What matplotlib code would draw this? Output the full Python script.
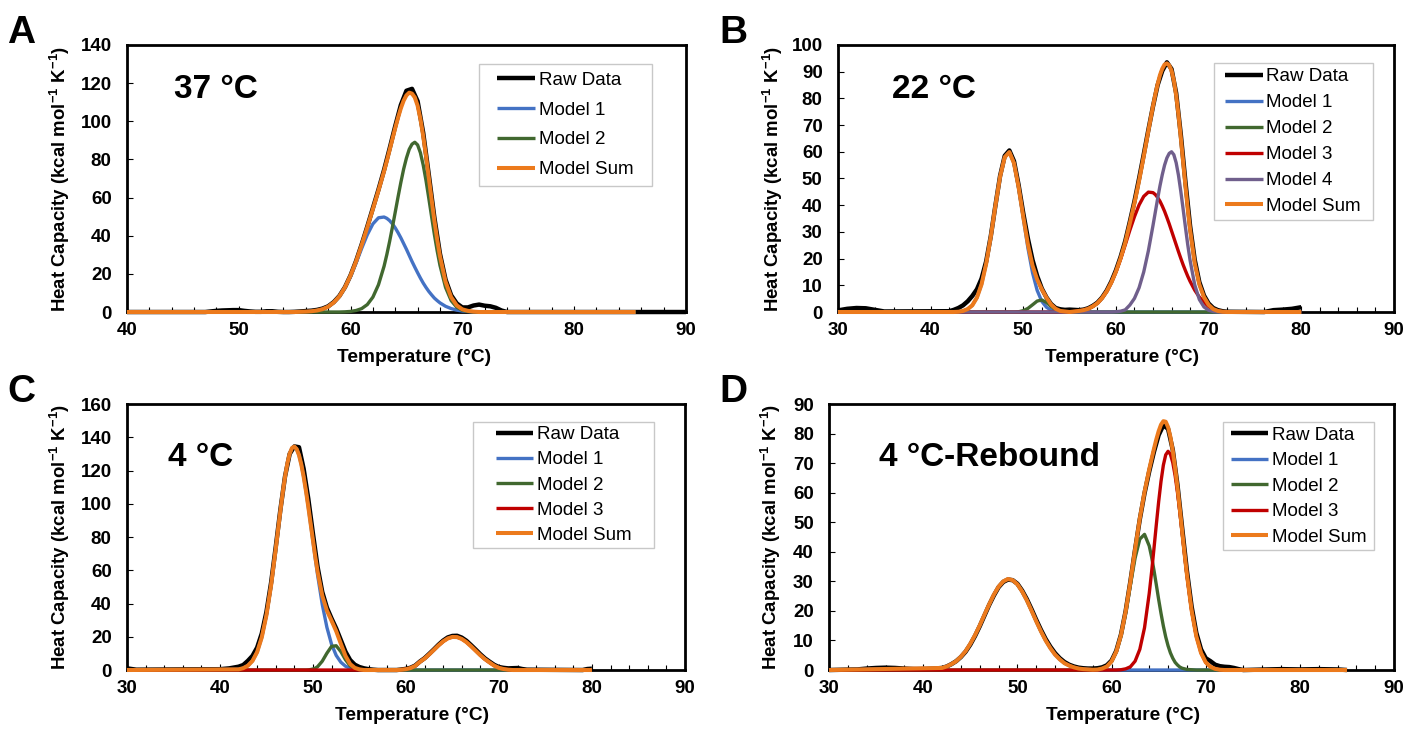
"""DSC deconvolution panels A-D: raw heat capacity, fitted models and their sum."""

import matplotlib

matplotlib.use("Agg")

import matplotlib.pyplot as plt
import numpy as np
from matplotlib.patches import Rectangle

plt.rcParams["font.family"] = ["Liberation Sans", "DejaVu Sans"]
plt.rcParams["mathtext.fontset"] = "custom"
plt.rcParams["mathtext.rm"] = "Liberation Sans:bold"
plt.rcParams["mathtext.bf"] = "Liberation Sans:bold"
plt.rcParams["mathtext.default"] = "bf"

RAW_COLOR = "#000000"
MODEL_COLORS = ["#4472C4", "#41682F", "#C00000", "#705F8C"]
SUM_COLOR = "#EC7A1C"

# ---------------- panel A : 37 C ----------------
temp_a = np.r_[40, np.arange(55, 63, 0.5), np.arange(63, 68, 0.25),
               np.arange(68, 73.5, 0.5), 85.5]
a_model1 = [0] + [
    0, 0.1, 0.2, 0.4, 0.8, 1.5, 2.8, 5.0, 8.2, 12.8, 18.8, 25.8, 33.4, 40.5, 46.2, 49.4,
    49.8, 49.1, 47.9, 46.2, 44.1, 41.6, 38.9, 35.9, 32.9, 29.7,
    26.5, 23.5, 20.6, 17.8, 15.2, 12.9, 10.8, 9.0, 7.3, 6.0,
    4.8, 3.0, 1.8, 1.0, 0.5, 0.3, 0.1, 0, 0, 0, 0] + [0]
a_model2 = [0] + [
    0, 0, 0, 0, 0, 0, 0, 0, 0, 0.1, 0.3, 0.8, 1.8, 3.9, 7.8, 14.3,
    24.0, 30.2, 37.1, 44.6, 52.4, 60.3, 67.9, 74.9, 80.7, 85.3,
    88.0, 89.0, 87.6, 83.5, 77.1, 69.0, 59.7, 50.1, 40.7, 32.1,
    24.5, 12.9, 6.0, 2.5, 0.9, 0.3, 0.1, 0, 0, 0, 0] + [0]
a_sum = [0] + [
    0, 0.1, 0.2, 0.4, 0.8, 1.5, 2.8, 5.0, 8.2, 12.9, 19.1, 26.6, 35.2, 44.4, 54.0, 63.7,
    73.8, 79.3, 85.0, 90.8, 96.5, 101.9, 106.8, 110.8, 113.6, 115.0,
    114.5, 112.5, 108.2, 101.3, 92.3, 81.9, 70.5, 59.1, 48.0, 38.1,
    29.3, 15.9, 7.8, 3.5, 1.4, 0.6, 0.2, 0, 0, 0, 0] + [0]
raw_a_t = np.r_[40, np.arange(47, 74.5, 0.5), 90]
raw_a = [0] + [
    0, 0.3, 0.6, 0.8, 0.9, 1.0, 1.0, 0.6, 0.3, 0.1,
    0.1, 0.4, 0.4, 0.1, 0, 0, 0.1, 0.3, 0.5, 0.7,
    1.1, 1.8, 3.0, 5.2, 8.4, 13.0, 19.2, 26.8, 35.5, 44.8,
    54.5, 64.2, 74.5, 85.8, 97.5, 108.5, 116.0, 117.0, 110.5, 94.0,
    72.0, 49.5, 30.5, 17.0, 8.8, 4.5, 2.4, 2.4, 3.4, 3.9,
    3.3, 3.0, 2.2, 0.8, 0] + [0]

# ---------------- panel B : 22 C ----------------
temp_b = np.r_[30, np.arange(42, 64, 0.5), np.arange(64, 68, 0.25),
               np.arange(68, 72.5, 0.5), 80]
b_model1 = [0] + [
    0, 0, 0.1, 0.4, 1.1, 2.5, 5.4, 10.4, 18.1, 28.3,
    39.9, 50.7, 58.0, 59.9, 55.7, 46.6, 35.2, 24.0, 14.7, 8.1,
    4.0, 1.8, 0.7, 0.3, 0.1] + [0] * 19 + [0] * 16 + [0] * 9 + [0]
b_model2 = [0] + [0] * 14 + [
    0, 0.1, 0.5, 1.35, 2.7, 4.1, 4.5, 3.6, 2.1, 0.9, 0.3, 0.1] + [0] * 18 + [0] * 25 + [0]
b_model3 = [0] + [0] * 27 + [
    0.2, 0.4, 0.7, 1.2, 2.1, 3.3, 5.2, 7.7, 11.0, 15.0,
    19.8, 25.1, 30.6, 35.7, 40.1, 43.3, 44.9] + [
    44.7, 44.0, 42.9, 41.5, 39.7, 37.7, 35.4, 33.0,
    30.4, 27.8, 25.2, 22.6, 20.1, 17.7, 15.5, 13.4] + [
    11.5, 8.2, 5.6, 3.7, 2.0, 0.9, 0.4, 0.1, 0] + [0]
b_model4 = [0] + [0] * 36 + [
    0.1, 0.3, 0.8, 2.6, 5.1, 9.1, 15.0, 22.9] + [
    32.4, 37.4, 42.4, 47.2, 51.4, 55.0, 57.7, 59.4,
    60.0, 58.9, 55.9, 51.2, 45.2, 38.6, 31.8, 25.2] + [
    19.4, 10.2, 4.7, 1.9, 0.65, 0.2, 0, 0, 0] + [0]
b_sum = [0] + [
    0, 0, 0.1, 0.4, 1.1, 2.5, 5.4, 10.4, 18.1, 28.3,
    39.9, 50.7, 58.0, 59.9, 55.7, 46.7, 35.7, 25.4, 17.4, 12.2,
    8.5, 5.4, 2.8, 1.2, 0.4, 0.2, 0, 0.2, 0.4, 0.7,
    1.2, 2.1, 3.3, 5.2, 7.7, 11.0, 15.1, 20.1, 25.9, 33.2,
    40.8, 49.2, 58.3, 67.8] + [
    77.1, 81.4, 85.3, 88.7, 91.1, 92.7, 93.1, 92.4,
    90.4, 86.7, 81.1, 73.8, 65.3, 56.3, 47.3, 38.6] + [
    30.9, 18.4, 10.3, 5.6, 2.7, 1.1, 0.4, 0.1, 0] + [0]
raw_b_t = np.r_[30, 31, 32, 33, 34, 35, np.arange(42, 72.5, 0.5), 76, 77, 78, 79, 80]
raw_b = [0.6, 1.2, 1.5, 1.4, 0.8, 0.2] + [
    0.3, 0.8, 1.5, 2.5, 4.0, 6.0, 8.5, 12.5, 19.0, 28.5,
    40.0, 51.0, 58.5, 60.5, 56.5, 47.5, 37.0, 27.5, 19.5, 13.5,
    8.8, 5.5, 3.0, 1.5, 1.0, 0.8, 0.9, 0.8, 0.7, 0.9,
    1.4, 2.3, 3.5, 5.4, 8.0, 11.4, 15.6, 20.6, 26.5, 33.8,
    41.5, 50.0, 59.0, 68.2, 77.0, 85.0, 90.3, 93.5, 91.0, 82.0,
    66.5, 48.8, 32.3, 19.6, 11.2, 6.2, 3.2, 1.5, 0.7, 0.3,
    0.1] + [0, 0.7, 0.9, 1.2, 1.8]

# ---------------- panel C : 4 C ----------------
temp_c = np.r_[30, np.arange(42, 46, 0.5), np.arange(46, 50.5, 0.25),
               np.arange(50.5, 72.5, 0.5), 80]
c_model1 = [0] + [
    0.4, 1.1, 2.6, 5.5, 10.8, 19.7, 33.0, 51.0] + [
    72.8, 84.4, 95.8, 106.6, 116.2, 124.3, 130.2, 133.6, 134.4,
    132.9, 129.3, 123.6, 116.3, 107.7, 98.1, 87.8, 77.5, 67.1] + [
    57.2, 39.5, 25.7, 15.5, 8.8, 4.7, 2.3, 1.1, 0.5, 0.2] + [0] * 34 + [0]
c_model2 = [0] + [0] * 8 + [0] * 13 + [0, 0.1, 0.3, 0.6, 1.1] + [
    2.0, 5.3, 10.1, 14.2, 14.6, 11.1, 6.2, 2.5, 0.8, 0.2] + [0] * 34 + [0]
c_model3 = [0] + [0] * 8 + [0] * 18 + [0] * 18 + [
    0.2, 0.5, 1.2, 2.5, 4.9, 6.9, 9.4, 12.1, 14.8, 17.2,
    19.0, 19.9, 19.8, 18.7, 16.8, 14.3, 11.6, 8.9, 6.5, 4.5,
    2.6, 1.3, 0.6, 0.2] + [0] * 2 + [0]
c_sum = [0] + [
    0.4, 1.1, 2.6, 5.5, 10.8, 19.7, 33.0, 51.0] + [
    72.8, 84.4, 95.8, 106.6, 116.2, 124.3, 130.2, 133.6, 134.4,
    132.9, 129.3, 123.6, 116.3, 107.7, 98.2, 88.1, 78.1, 68.2] + [
    59.2, 44.8, 35.8, 29.7, 23.4, 15.8, 8.5, 3.6, 1.3, 0.4,
    0, 0, 0, 0, 0, 0, 0, 0, 0.2, 0.5, 1.2, 2.5, 4.9,
    6.9, 9.4, 12.1, 14.8, 17.2, 19.0, 19.9, 19.8, 18.7, 16.8,
    14.3, 11.6, 8.9, 6.5, 4.5, 2.6, 1.3, 0.6, 0.2, 0,
    0] + [0]
raw_c_t = np.r_[30, 31, 40, 41, np.arange(42, 73.5, 0.5), 79, 79.5, 80]
raw_c = [1.0, 0.2, 0.5, 1.0] + [
    2.0, 3.0, 5.5, 8.5, 13.5, 22.0, 35.0, 52.5, 74.0, 96.5,
    116.5, 130.0, 134.5, 134.0, 121.0, 103.0, 82.0, 62.0, 47.0, 37.5,
    31.0, 25.0, 18.0, 11.0, 6.0, 3.2, 1.8, 1.0, 0.5, 0.2,
    0, 0, 0, 0, 0, 0.3, 0.7, 1.4, 2.7, 5.1,
    7.1, 9.7, 12.4, 15.2, 17.7, 19.6, 20.5, 20.6, 19.5, 17.6,
    15.0, 12.3, 9.5, 7.0, 5.0, 3.1, 1.8, 1.3, 1.0, 1.1,
    1.2, 0.6, 0.2] + [0, 0.6, 0.8]

# ---------------- panel D : 4 C rebound ----------------
temp_d = np.r_[30, np.arange(42, 64, 0.5), np.arange(64, 68, 0.25),
               np.arange(68, 72.5, 0.5), 85]
d_model1 = [0] + [
    0.7, 1.2, 2.0, 3.0, 4.5, 6.4, 8.9, 11.8, 15.1, 18.7,
    22.2, 25.5, 28.2, 30.0, 30.8, 30.4, 29.0, 26.6, 23.6, 20.1,
    16.5, 13.1, 10.0, 7.4, 5.2, 3.6, 2.3, 1.5, 0.9, 0.5,
    0.3, 0.2, 0.1] + [0] * 11 + [0] * 16 + [0] * 9 + [0]
d_model2 = [0] + [0] * 33 + [
    0.15, 0.5, 1.2, 2.9, 6.2, 11.7, 19.5, 28.8, 37.9, 44.3, 45.9] + [
    42.0, 38.3, 33.8, 28.9, 23.9, 19.2, 14.9, 11.2,
    8.2, 5.8, 4.0, 2.6, 1.7, 1.0, 0.6, 0.4] + [
    0.2, 0.1, 0, 0, 0, 0, 0, 0, 0] + [0]
d_model3 = [0] + [0] * 38 + [
    0.1, 0.4, 1.1, 3.0, 7.0, 14.3] + [
    25.9, 33.1, 41.0, 49.1, 56.9, 63.8, 69.3, 72.8,
    74.0, 73.0, 70.2, 65.8, 60.1, 53.5, 46.3, 39.1] + [
    32.2, 20.1, 11.4, 5.8, 2.6, 1.1, 0.4, 0.1, 0] + [0]
d_sum = [0] + [
    0.7, 1.2, 2.0, 3.0, 4.5, 6.4, 8.9, 11.8, 15.1, 18.7,
    22.2, 25.5, 28.2, 30.0, 30.8, 30.4, 29.0, 26.6, 23.6, 20.1,
    16.5, 13.1, 10.0, 7.4, 5.2, 3.6, 2.3, 1.5, 0.9, 0.5,
    0.3, 0.2, 0.1, 0.15, 0.5, 1.2, 2.9, 6.2, 11.8, 19.9,
    29.9, 40.9, 51.3, 60.2] + [
    67.9, 71.4, 74.8, 78.0, 80.8, 83.0, 84.2, 84.0,
    82.2, 78.8, 74.2, 68.4, 61.8, 54.5, 46.9, 39.5] + [
    32.4, 20.2, 11.4, 5.8, 2.6, 1.1, 0.4, 0.1, 0] + [0]
raw_d_t = np.r_[30, 33, 34, 35, 36, 37, 38, 39, 40, np.arange(42, 74.5, 0.5), 78, 80, 82, 84, 85]
raw_d = [0, 0.2, 0.5, 0.7, 0.8, 0.7, 0.5, 0.3, 0.2] + [
    0.7, 1.2, 2.0, 3.0, 4.4, 6.2, 8.6, 11.5, 14.8, 18.4,
    22.0, 25.2, 28.0, 29.8, 30.6, 30.4, 29.2, 26.9, 24.0, 20.6,
    17.0, 13.6, 10.5, 7.9, 5.7, 4.0, 2.7, 1.8, 1.2, 0.8,
    0.6, 0.5, 0.5, 0.6, 0.9, 1.6, 3.2, 6.5, 12.0, 20.0,
    30.0, 40.8, 51.0, 59.8, 67.2, 73.8, 79.5, 82.8, 81.6, 74.5,
    62.6, 48.0, 33.6, 21.5, 12.6, 7.0, 4.0, 3.0, 1.8, 1.3,
    1.1, 1.0, 0.7, 0.3, 0] + [0.3, 0.2, 0.3, 0.2, 0]

YLABEL = r"Heat Capacity (kcal mol$^{\mathbf{-1}}$ K$^{\mathbf{-1}}$)"
XLABEL = "Temperature (°C)"


def draw_panel(ax, temp, models, raw_t, raw_cp, total, xmin, ymax, ystep,
               tag, tag_xy, ylab_x, xlab_x, legend_box, legend_gap):
    """Raw trace, the individual model peaks and the model sum on one axes."""
    line_kw = dict(clip_on=False, solid_capstyle="butt", solid_joinstyle="round")
    ax.plot(raw_t, raw_cp, color=RAW_COLOR, lw=3.2, label="Raw Data",
            zorder=3, **line_kw)
    for i, vals in enumerate(models):
        ax.plot(temp, vals, color=MODEL_COLORS[i], lw=2.4, label=f"Model {i + 1}",
                zorder=4 + i, **line_kw)
    ax.plot(temp, total, color=SUM_COLOR, lw=2.9, label="Model Sum",
            zorder=10, **line_kw)

    ax.set_xlim(xmin, 90)
    ax.set_ylim(0, ymax)
    ax.set_xticks(np.arange(xmin, 91, 10))
    ax.set_xticks(np.arange(xmin, 91, 2), minor=True)
    ax.set_yticks(np.arange(0, ymax + 1, ystep))
    ax.tick_params(axis="x", which="both", direction="in", width=0.8,
                   labelsize=13.5, pad=7)
    ax.tick_params(axis="x", which="major", length=4)
    ax.tick_params(axis="x", which="minor", length=3.5)
    ax.tick_params(axis="y", which="major", direction="in", width=0.8,
                   length=4, labelsize=13.5, pad=11)
    for lab in ax.get_xticklabels() + ax.get_yticklabels():
        lab.set_fontweight("bold")
    for side in ["top", "right", "bottom", "left"]:
        ax.spines[side].set_linewidth(2.0)

    ax.set_ylabel(YLABEL, fontsize=13.4, fontweight="bold")
    ax.yaxis.set_label_coords(ylab_x, 0.5)
    ax.set_xlabel(XLABEL, fontsize=13.8, fontweight="bold")
    ax.xaxis.set_label_coords(xlab_x, -0.14)

    ax.text(tag_xy[0], tag_xy[1], tag, transform=ax.transAxes, fontsize=24,
            fontweight="bold", ha="left", va="baseline")

    # legend frame drawn by hand, entries centred inside it
    x0, y0, x1, y1 = legend_box
    ax.add_patch(Rectangle((x0, y0), x1 - x0, y1 - y0, transform=ax.transAxes,
                           facecolor="white", edgecolor="#C8C8C8", lw=1.0,
                           zorder=19, clip_on=False))
    leg = ax.legend(loc="center", bbox_to_anchor=((x0 + x1) / 2, (y0 + y1) / 2),
                    frameon=False, prop={"size": 13.5, "weight": "normal"},
                    handlelength=2.0, handletextpad=0.2, labelspacing=legend_gap,
                    borderpad=0, borderaxespad=0)
    leg.set_zorder(20)


fig = plt.figure(figsize=(14.09, 7.29), dpi=100)

ax_a = fig.add_axes([0.0901, 0.572, 0.3967, 0.3663])
draw_panel(ax_a, temp_a, [a_model1, a_model2], raw_a_t, raw_a, a_sum,
           40, 140, 20, "37 °C", (0.084, 0.80), -0.098, 0.513,
           (0.6297, 0.4719, 0.9392, 0.9288), 0.68)

ax_b = fig.add_axes([0.5947, 0.572, 0.3946, 0.3663])
draw_panel(ax_b, temp_b, [b_model1, b_model2, b_model3, b_model4], raw_b_t, raw_b,
           b_sum, 30, 100, 10, "22 °C", (0.097, 0.80), -0.095, 0.511,
           (0.6755, 0.3446, 0.9621, 0.9315), 0.47)

ax_c = fig.add_axes([0.0901, 0.0809, 0.396, 0.3649])
draw_panel(ax_c, temp_c, [c_model1, c_model2, c_model3], raw_c_t, raw_c, c_sum,
           30, 160, 20, "4 °C", (0.073, 0.767), -0.0985, 0.511,
           (0.6208, 0.4575, 0.9446, 0.9335), 0.43)

ax_d = fig.add_axes([0.5884, 0.0809, 0.401, 0.3649])
draw_panel(ax_d, temp_d, [d_model1, d_model2, d_model3], raw_d_t, raw_d, d_sum,
           30, 90, 10, "4 °C-Rebound", (0.088, 0.767), -0.081, 0.521,
           (0.6968, 0.4511, 0.9648, 0.9312), 0.45)

for letter, x, y in [("A", 7, 43), ("B", 719, 43), ("C", 7, 402), ("D", 719, 402)]:
    fig.text(x / 1409, 1 - y / 729, letter, fontsize=28, fontweight="bold",
             ha="left", va="baseline")

fig.savefig("out.png", dpi=100)
plt.close(fig)
